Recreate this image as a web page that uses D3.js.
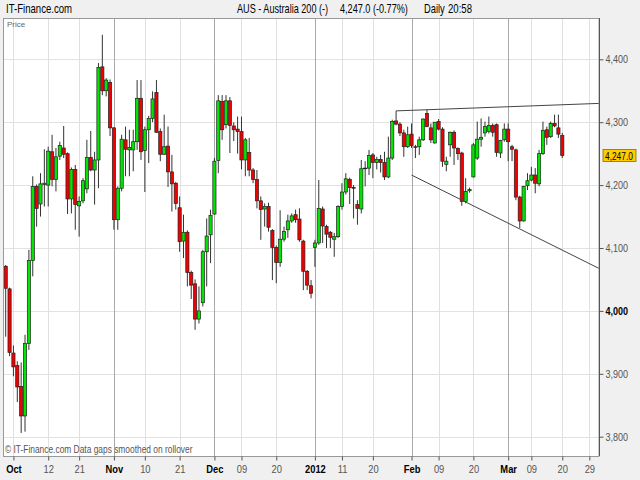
<!DOCTYPE html>
<html>
<head>
<meta charset="utf-8">
<script src="https://cdn.jsdelivr.net/npm/d3@7/dist/d3.min.js"></script>
<style>
  body { margin: 0; background: #f0f0f0; }
  svg { display: block; font-family: "Liberation Sans", Arial, sans-serif; }
</style>
</head>
<body>
<svg id="chart" width="640" height="480"></svg>
<script>
// trading days of the feed (Sun-Fri), by month
var sep11 = [29, 30];
var oct11 = [2,3,4,5,6,7,9,10,11,12,13,14,16,17,18,19,20,21,23,24,25,26,27,28,30,31];
var nov11 = [1,2,3,4,6,7,8,9,10,11,13,14,15,16,17,18,20,21,22,23,24,25,27,28,29,30];
var dec11 = [1,2,4,5,6,7,8,9,11,12,13,14,15,16,18,19,20,21,22,23,25,26,27,28,29,30];
var jan12 = [3,4,5,6,8,9,10,11,12,13,15,16,17,18,19,20,22,23,24,25,26,27,29,30,31];
var feb12 = [1,2,3,5,6,7,8,9,10,12,13,14,15,16,17,19,20,21,22,23,24,26,27,28,29];
var mar12 = [1,2,5,6,7,8,9,12,13,14,15,16,18,19,20,21,22,23,26,27,28,29,30];
var apr12 = [2,3];

// daily OHLC, one value per trading day from 2011-09-29
var open = [4071,4035,3933,3913,3880,3833,3948,4080,4198,4170, 4201,4200,4253,4209,4246,4259,4250,4178,4225,4167,
  4175,4194,4244,4224,4240,4388,4350,4363,4291,4145, 4195,4272,4256,4256,4269,4338,4255,4288,4306,4347,
  4285,4249,4262,4221,4203,4164,4111,4125,4061,4043, 3987,4013,4094,4121,4154,4239,4333,4296,4334,4294,
  4289,4285,4240,4252,4224,4209,4175,4162,4166,4128, 4101,4077,4114,4129,4143,4153,4146,4111,4063,4040,
  4101,4108,4162,4134,4125,4114,4118,4166,4189,4209, 4196,4169,4162,4227,4227,4248,4236,4241,4236,4213,
  4243,4302,4297,4283,4261,4281,4261,4261,4272,4314, 4291,4267,4301,4289,4233,4264,4284,4258,4251,4174,
  4191,4213,4243,4273,4283,4285,4295,4296,4251,4272, 4289,4261,4256,4181,4143,4199,4208,4216,4202,4250,
  4288,4277,4298,4291,4279];
var high = [4073,4037,3945,3920,3918,3962,4097,4214,4201,4219, 4257,4261,4280,4259,4269,4294,4252,4228,4232,4182,
  4211,4272,4286,4253,4394,4439,4370,4368,4292,4198, 4280,4293,4288,4288,4367,4367,4293,4310,4349,4367,
  4290,4312,4293,4248,4205,4182,4153,4128,4064,4050, 4039,4097,4147,4161,4243,4343,4343,4343,4340,4300,
  4309,4309,4275,4275,4227,4224,4182,4171,4172,4130, 4104,4160,4134,4153,4155,4161,4163,4113,4065,4049,
  4113,4208,4166,4137,4127,4124,4168,4203,4219,4212, 4200,4176,4240,4238,4256,4251,4245,4248,4253,4277,
  4304,4318,4300,4288,4293,4298,4264,4277,4306,4320, 4298,4300,4305,4292,4245,4285,4287,4260,4253,4211,
  4196,4267,4301,4306,4301,4309,4298,4298,4272,4298, 4298,4264,4258,4183,4199,4219,4229,4227,4256,4301,
  4293,4301,4312,4312,4283];
var low = [3959,3928,3896,3855,3806,3808,3938,4055,4134,4150, 4166,4166,4198,4190,4240,4243,4154,4155,4129,4118,
  4171,4187,4222,4169,4195,4343,4341,4278,4129,4129, 4190,4214,4214,4222,4256,4240,4189,4235,4300,4283,
  4238,4248,4197,4158,4161,4094,4084,4039,4019,3970, 3980,4007,4039,4076,4153,4219,4272,4290,4251,4270,
  4250,4225,4214,4214,4203,4163,4113,4134,4126,4049, 4044,4070,4110,4116,4140,4140,4110,4033,4033,4020,
  4070,4105,4108,4100,4100,4086,4116,4161,4185,4170, 4147,4137,4155,4198,4216,4211,4225,4220,4208,4211,
  4240,4295,4278,4245,4259,4259,4243,4248,4270,4292, 4267,4266,4287,4229,4222,4245,4232,4240,4167,4171,
  4188,4212,4240,4261,4277,4282,4277,4245,4243,4269, 4238,4238,4176,4132,4142,4192,4206,4187,4198,4248,
  4264,4275,4292,4275,4243];
var close = [4036,3934,3911,3879,3833,3948,4080,4198,4163,4202, 4203,4254,4209,4245,4263,4249,4178,4225,4169,4174,
  4207,4244,4224,4240,4387,4350,4367,4291,4145,4195, 4273,4257,4260,4269,4338,4253,4288,4306,4337,4284,
  4249,4261,4221,4202,4171,4110,4125,4061,4041,3987, 4000,4094,4119,4152,4238,4334,4288,4334,4295,4288,
  4285,4240,4272,4224,4209,4175,4161,4166,4133,4101, 4077,4114,4126,4143,4151,4145,4113,4063,4041,4028,
  4108,4163,4135,4122,4117,4118,4166,4189,4210,4196, 4195,4163,4226,4226,4247,4236,4241,4236,4213,4243,
  4301,4297,4283,4261,4280,4263,4260,4272,4305,4293, 4272,4300,4289,4238,4238,4284,4259,4250,4174,4190,
  4193,4264,4273,4276,4293,4295,4284,4252,4271,4289, 4269,4257,4181,4143,4198,4207,4216,4203,4250,4287,
  4276,4298,4294,4281,4247];

var yTicks = [3800, 3900, 4000, 4100, 4200, 4300, 4400];
var xTickDates = ["2011-10-02","2011-10-12","2011-10-21","2011-11-01","2011-11-10","2011-11-21","2011-12-01","2011-12-09","2011-12-20",
  "2012-01-03","2012-01-11","2012-01-20","2012-02-01","2012-02-09","2012-02-20","2012-03-01","2012-03-09","2012-03-20","2012-03-29"];
var xTickLabels = ["Oct","12","21","Nov","10","21","Dec","09","20","2012","11","20","Feb","09","20","Mar","09","20","29"];

// drawn trend lines: [date, price]
var upperLine = [["2012-01-27", 4318], ["2012-04-03", 4330]];
var lowerLine = [["2012-02-01", 4216], ["2012-04-03", 4066]];

var lastPrice = 4247.0;

function pad(d) { return d < 10 ? "0" + d : "" + d; }
var dates = [];
[["2011-09", sep11], ["2011-10", oct11], ["2011-11", nov11], ["2011-12", dec11],
 ["2012-01", jan12], ["2012-02", feb12], ["2012-03", mar12], ["2012-04", apr12]].forEach(function(m) {
  m[1].forEach(function(d) { dates.push(m[0] + "-" + pad(d)); });
});

var candles = open.map(function(o, i) {
  return {i: i, date: dates[i], o: o, h: high[i], l: low[i], c: close[i]};
});

var plot = {left: 4, right: 599, top: 18, bottom: 456};

var x = d3.scaleLinear().domain([-0.44, 153.5]).range([plot.left, plot.right]);
var y = d3.scaleLinear().domain([3800, 4400]).range([436.7, 59.3]);
function xd(date) { return x(dates.indexOf(date)); }

// squeeze text horizontally, the chart uses a narrow font
function squeeze(sel, k) {
  sel.each(function() {
    var t = d3.select(this);
    var tx = +t.attr("x") || 0, ty = +t.attr("y") || 0;
    t.attr("x", 0).attr("y", 0)
      .attr("transform", "translate(" + tx + "," + ty + ") scale(" + k + ",1)");
  });
}

var svg = d3.select("#chart");

svg.append("rect")
  .attr("x", plot.left).attr("y", plot.top)
  .attr("width", plot.right - plot.left).attr("height", plot.bottom - plot.top)
  .attr("fill", "#fff");

svg.append("clipPath").attr("id", "clip")
  .append("rect")
  .attr("x", plot.left).attr("y", plot.top)
  .attr("width", plot.right - plot.left).attr("height", plot.bottom - plot.top);

// horizontal grid
svg.append("g")
  .selectAll("line")
  .data(yTicks)
  .enter().append("line")
  .attr("x1", plot.left).attr("x2", plot.right)
  .attr("y1", d => Math.round(y(d)) + 0.5).attr("y2", d => Math.round(y(d)) + 0.5)
  .attr("stroke", "#e2e2e2");

// vertical grid
var months = ["Oct","Nov","Dec","2012","Feb","Mar"];
svg.append("g")
  .selectAll("line")
  .data(xTickDates)
  .enter().append("line")
  .attr("x1", d => Math.round(xd(d)) + 0.5).attr("x2", d => Math.round(xd(d)) + 0.5)
  .attr("y1", plot.top).attr("y2", plot.bottom)
  .attr("stroke", (d, i) => i > 0 && months.indexOf(xTickLabels[i]) >= 0 ? "#a8a8a8" : "#e0e0e0");

var g = svg.append("g").attr("clip-path", "url(#clip)");

// candles
g.selectAll(".wick")
  .data(candles)
  .enter().append("line")
  .attr("class", "wick")
  .attr("x1", d => x(d.i)).attr("x2", d => x(d.i))
  .attr("y1", d => y(d.h)).attr("y2", d => y(d.l))
  .attr("stroke", "#333")
  .attr("stroke-width", 1);

g.selectAll(".body")
  .data(candles)
  .enter().append("rect")
  .attr("class", "body")
  .attr("x", d => x(d.i) - 1.6)
  .attr("width", 3.2)
  .attr("y", d => y(Math.max(d.o, d.c)))
  .attr("height", d => Math.max(0.6, Math.abs(y(d.o) - y(d.c))))
  .attr("fill", d => d.c >= d.o ? "#00e600" : "#f00000")
  .attr("stroke", "#222")
  .attr("stroke-width", 0.7);

// trend lines
[upperLine, lowerLine].forEach(function(l) {
  g.append("line")
    .attr("x1", xd(l[0][0])).attr("y1", y(l[0][1]))
    .attr("x2", xd(l[1][0])).attr("y2", y(l[1][1]))
    .attr("stroke", "#444")
    .attr("stroke-width", 1);
});

// frame
svg.append("rect")
  .attr("x", plot.left - 0.5).attr("y", plot.top + 0.5)
  .attr("width", plot.right - plot.left + 0.5).attr("height", plot.bottom - plot.top)
  .attr("fill", "none").attr("stroke", "#999");

// right axis
var yAxis = svg.append("g")
  .attr("transform", "translate(" + (plot.right + 0.5) + ",0)")
  .call(d3.axisRight(y).tickValues(yTicks).tickSize(4).tickPadding(2).tickFormat(d3.format(",")));
yAxis.select(".domain").attr("d", "M0," + plot.top + "V" + plot.bottom).attr("stroke", "#555");
yAxis.selectAll(".tick line").attr("stroke", "#555");
yAxis.selectAll(".tick text")
  .attr("font-size", 11)
  .attr("font-family", null)
  .attr("fill", d => d === 4000 ? "#000" : "#555")
  .attr("font-weight", d => d === 4000 ? "bold" : "normal");
squeeze(yAxis.selectAll(".tick text"), 0.82);

// bottom axis
var xAxis = svg.append("g")
  .attr("transform", "translate(0," + (plot.bottom + 0.5) + ")")
  .call(d3.axisBottom(x)
    .tickValues(xTickDates.map(d => dates.indexOf(d)))
    .tickSize(4).tickPadding(5)
    .tickFormat((d, i) => xTickLabels[i]));
xAxis.select(".domain").remove();
xAxis.selectAll(".tick line").attr("stroke", "#555");
xAxis.selectAll(".tick text")
  .attr("font-size", 11)
  .attr("font-family", null)
  .attr("fill", (d, i) => months.indexOf(xTickLabels[i]) >= 0 ? "#000" : "#555")
  .attr("font-weight", (d, i) => months.indexOf(xTickLabels[i]) >= 0 ? "bold" : "normal");
squeeze(xAxis.selectAll(".tick text"), 0.85);

// last price marker
var lp = svg.append("g").attr("transform", "translate(603," + y(lastPrice) + ")");
lp.append("rect").attr("x", 0).attr("y", -6).attr("width", 33).attr("height", 12)
  .attr("fill", "#ffcc00").attr("stroke", "#8a6d00").attr("stroke-width", 0.8);
squeeze(lp.append("text").attr("x", 2).attr("y", 4)
  .attr("font-size", 11).attr("fill", "#000").text(d3.format(",.1f")(lastPrice)), 0.76);

// titles and notes
var title = svg.append("g").attr("font-size", 12).attr("fill", "#000");
squeeze(title.append("text").attr("x", 6).attr("y", 13).text("IT-Finance.com"), 0.8);
squeeze(title.append("text").attr("x", 237).attr("y", 13).text("AUS - Australia 200 (-)"), 0.76);
squeeze(title.append("text").attr("x", 340).attr("y", 13).text("4,247.0 (-0.77%)"), 0.76);
squeeze(title.append("text").attr("x", 424).attr("y", 13).text("Daily"), 0.78);
squeeze(title.append("text").attr("x", 448).attr("y", 13).text("20:58"), 0.8);
svg.append("text").attr("x", 7).attr("y", 27).attr("font-size", 8).attr("fill", "#666").text("Price");
squeeze(svg.append("text").attr("x", 5).attr("y", 453).attr("font-size", 10).attr("fill", "#555")
  .text("\u00a9 IT-Finance.com  Data gaps smoothed on rollover"), 0.84);
</script>
</body>
</html>
